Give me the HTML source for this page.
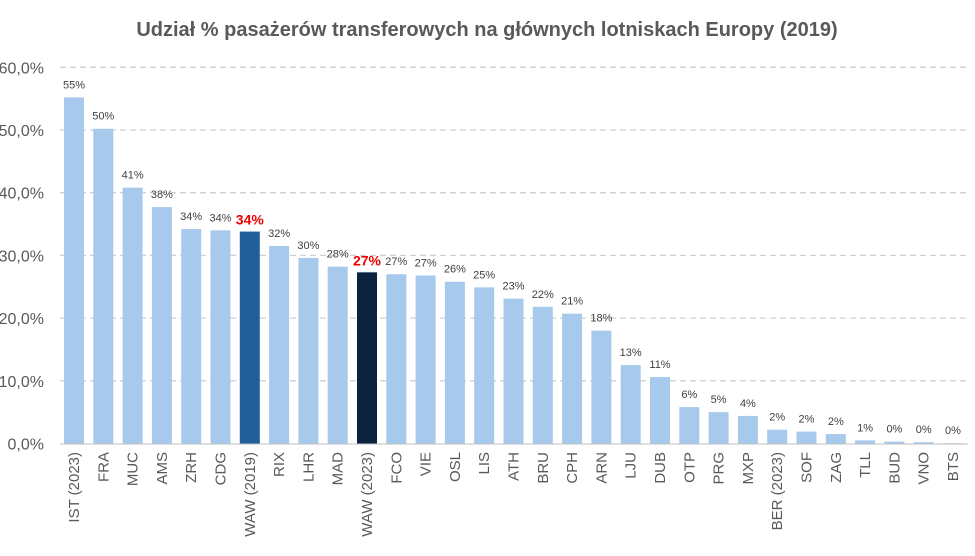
<!DOCTYPE html>
<html><head><meta charset="utf-8"><style>
body{margin:0;background:#fff;width:975px;height:551px;overflow:hidden}
text{font-family:"Liberation Sans",sans-serif}
</style></head><body>
<svg id="chart" width="975" height="551" xmlns="http://www.w3.org/2000/svg">
<text x="487" y="36" text-anchor="middle" font-size="20" font-weight="bold" fill="#595959">Udział % pasażerów transferowych na głównych lotniskach Europy (2019)</text>
<g id="grid"></g><g id="bars"></g><g id="labels"></g>
</svg>
<script>
const categories=["IST (2023)","FRA","MUC","AMS","ZRH","CDG","WAW (2019)","RIX","LHR","MAD","WAW (2023)","FCO","VIE","OSL","LIS","ATH","BRU","CPH","ARN","LJU","DUB","OTP","PRG","MXP","BER (2023)","SOF","ZAG","TLL","BUD","VNO","BTS"];
const values=[55.2,50.2,40.8,37.7,34.2,34.0,33.8,31.5,29.6,28.2,27.3,27.0,26.8,25.8,24.9,23.1,21.8,20.7,18.0,12.5,10.6,5.8,5.0,4.4,2.2,1.9,1.5,0.5,0.3,0.2,0.05];
const valueLabels=["55%","50%","41%","38%","34%","34%","34%","32%","30%","28%","27%","27%","27%","26%","25%","23%","22%","21%","18%","13%","11%","6%","5%","4%","2%","2%","2%","1%","0%","0%","0%"];
const yTicks=[0,10,20,30,40,50,60];
const yTickLabels=["0,0%","10,0%","20,0%","30,0%","40,0%","50,0%","60,0%"];
const ns="http://www.w3.org/2000/svg";
const y0=443.5,pxPer=6.27,x0=74,step=29.3,bw=20;
const y=v=>y0-v*pxPer, x=i=>x0+i*step;
function mk(t,a,p){const e=document.createElementNS(ns,t);for(const k in a)e.setAttribute(k,a[k]);p.appendChild(e);return e;}
const grid=document.getElementById('grid'),bars=document.getElementById('bars'),lab=document.getElementById('labels');
yTicks.forEach((t,i)=>{
 if(t>0){const l=mk('line',{x1:60,x2:968,y1:y(t),y2:y(t),stroke:'#d0d0d0','stroke-width':1.3,'stroke-dasharray':'6,4'},grid);
 
 }
 const tx=mk('text',{x:44,y:y(t)+6,'text-anchor':'end','font-size':16,fill:'#595959'},grid);tx.textContent=yTickLabels[i];
 
 
});
const ax=mk('line',{x1:60,x2:968,y1:y0+0.5,y2:y0+0.5,stroke:'#bfbfbf','stroke-width':1},grid);


categories.forEach((c,i)=>{
 const hl=c==="WAW (2019)"?'#215f9a':c==="WAW (2023)"?'#0c2340':'#a6c9ec';
 const v=values[i];
 const r=mk('rect',{x:x(i)-bw/2,y:y(v),width:bw,height:y0-y(v),fill:hl},bars);
 
 
 const isW=c.startsWith("WAW");
 const vl=mk('text',{x:x(i),y:y(v)-(isW?7:9),'text-anchor':'middle','font-size':isW?14:11,'font-weight':isW?'bold':'normal',fill:isW?'#ee0000':'#404040'},lab);
 vl.textContent=valueLabels[i];
 
 
 const xl=mk('text',{transform:`translate(${x(i)+5},452) rotate(-90)`,'text-anchor':'end','font-size':15,fill:'#595959'},lab);
 xl.textContent=c;
 
 
});
</script>
</body></html>
